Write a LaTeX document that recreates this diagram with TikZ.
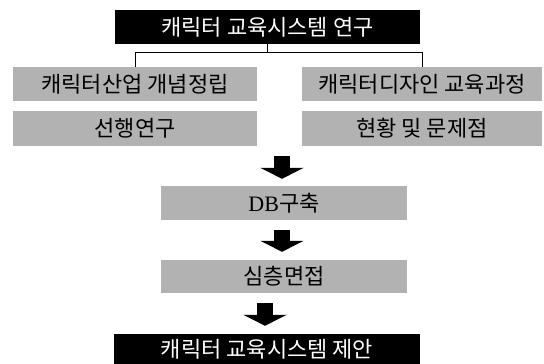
\documentclass[tikz,border=0pt]{standalone}
\usepackage{fontspec}
\setmainfont{Liberation Serif}
\newfontfamily\kr{Noto Sans CJK KR}
\usetikzlibrary{arrows.meta}
\begin{document}
\begin{tikzpicture}[x=1pt,y=-1pt]
    \tikzstyle{titlebox}=[fill=black,text=white,inner sep=0pt,minimum height=34pt,font=\kr\fontsize{22}{22}\selectfont]
    \tikzstyle{graybox}=[fill=black!30,text=black,inner sep=0pt,minimum height=34pt,font=\kr\fontsize{22}{22}\selectfont]
    \tikzstyle{blockarrow}=[line width=16pt,-{Triangle[width=43pt,length=11pt]}]

    \useasboundingbox (0,0) rectangle (544,364);

    \node[titlebox,minimum width=305pt] at (267.5,27) (title) {캐릭터 교육시스템 연구};
    \node[graybox,minimum width=244pt] at (135,84) (concept) {캐릭터산업 개념정립};
    \node[graybox,minimum width=240pt] at (422,84) (course) {캐릭터디자인 교육과정};
    \node[graybox,minimum width=244pt,minimum height=35pt] at (135,128.5) (prior) {선행연구};
    \node[graybox,minimum width=240pt,minimum height=35pt] at (422,128.5) (status) {현황 및 문제점};
    \node[graybox,minimum width=246pt] at (284,203) (db) {{\rmfamily DB}구축};
    \node[graybox,minimum width=246pt,minimum height=33pt] at (284,276.5) (interview) {심층면접};
    \node[titlebox,minimum width=306pt,minimum height=30pt] at (267,349) (proposal) {캐릭터 교육시스템 제안};

    \draw (title.south) -- ++(0,8) -| (concept.north);
    \draw (title.south) -- ++(0,8) -| (course.north);

    \draw[blockarrow] ([xshift=-2pt,yshift=30pt]db.north) -- ([xshift=-2pt,yshift=7pt]db.north);
    \draw[blockarrow] ([xshift=-2pt,yshift=30pt]interview.north) -- ([xshift=-2pt,yshift=8pt]interview.north);
    \draw[blockarrow] ([xshift=-2pt,yshift=31pt]proposal.north) -- ([xshift=-2pt,yshift=8pt]proposal.north);
\end{tikzpicture}
\end{document}
